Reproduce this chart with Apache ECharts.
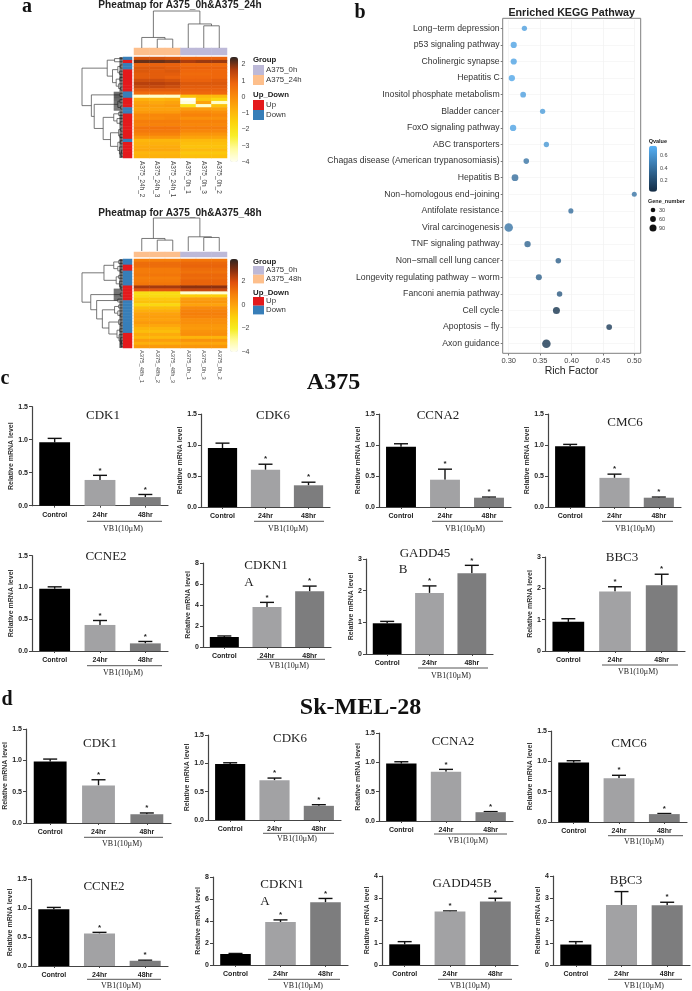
<!DOCTYPE html>
<html><head><meta charset="utf-8">
<style>html,body{margin:0;padding:0;background:#fff}#c{width:692px;height:991px}</style>
<script src="https://cdn.jsdelivr.net/npm/echarts@6/dist/echarts.min.js"></script>
</head><body><div id="c"></div>
<script>
// ---------- DATA: qPCR ----------
const barCategories = ['Control', '24hr', '48hr'];
const a375Genes = ['CDK1','CDK6','CCNA2','CMC6','CCNE2','CDKN1A','GADD45B','BBC3'];
const a375Means = [[.96,.39,.13],[.95,.60,.35],[.97,.44,.15],[.98,.47,.15],[.98,.41,.12],[.95,3.8,5.3],[.97,1.93,2.55],[.93,1.9,2.1]];
const a375Upper = [[1.02,.46,.17],[1.03,.69,.40],[1.02,.61,.16],[1.01,.53,.16],[1.01,.48,.15],[1.05,4.25,5.8],[1.03,2.15,2.8],[1.03,2.05,2.45]];
const a375YMax = [1.5,1.5,1.5,1.5,1.5,8,3,3];
const a375YStep = [.5,.5,.5,.5,.5,2,1,1];
const skGenes = ['CDK1','CDK6','CCNA2','CMC6','CCNE2','CDKN1A','GADD45B','BBC3'];
const skMeans = [[.98,.60,.14],[.99,.70,.25],[.98,.84,.15],[.98,.72,.13],[.98,.56,.09],[1.0,3.9,5.7],[.93,2.4,2.85],[.92,2.7,2.68]];
const skUpper = [[1.02,.69,.16],[1.01,.74,.27],[1.01,.88,.16],[1.01,.77,.14],[1.01,.58,.10],[1.05,4.1,6.05],[1.05,2.43,3.0],[1.05,3.3,2.82]];
const skYMax = [1.5,1.5,1.5,1.5,1.5,8,4,4];
const skYStep = [.5,.5,.5,.5,.5,2,1,1];
const doseLabel = 'VB1(10μM)';
const yName = 'Relative mRNA level';

// ---------- DATA: KEGG ----------
const keggPathways = ['Long−term depression','p53 signaling pathway','Cholinergic synapse','Hepatitis C','Inositol phosphate metabolism','Bladder cancer','FoxO signaling pathway','ABC transporters','Chagas disease (American trypanosomiasis)','Hepatitis B','Non−homologous end−joining','Antifolate resistance','Viral carcinogenesis','TNF signaling pathway','Non−small cell lung cancer','Longevity regulating pathway − worm','Fanconi anemia pathway','Cell cycle','Apoptosis − fly','Axon guidance'];
const keggRich = [.325,.308,.308,.305,.323,.354,.307,.360,.328,.310,.50,.399,.30,.330,.379,.348,.381,.376,.460,.360];
const keggGene = [35,55,55,58,45,35,58,35,42,70,28,30,110,60,40,52,40,75,45,110];
const keggQ = [.66,.68,.68,.7,.66,.64,.68,.62,.42,.38,.42,.38,.42,.33,.3,.3,.26,.06,.1,.07];

// ---------- DATA: heatmaps ----------
const heat1Columns = ['A375_24h_2','A375_24h_3','A375_24h_1','A375_0h_1','A375_0h_3','A375_0h_2'];
const heat2Columns = ['A375_48h_1','A375_48h_2','A375_48h_3','A375_0h_1','A375_0h_3','A375_0h_2'];
const heat1Rows = [
[1.2,1.2,1.1,.9,.9,.9],[2.1,2.1,2.0,1.7,1.8,1.8],[.9,.9,.9,.7,.7,.7],[1.1,1.1,1.0,.9,.9,.9],
[1.1,1.0,1.1,.8,.8,.8],[1.0,1.0,1.0,.7,.7,.8],[1.0,1.0,.9,.8,.8,.8],[1.3,1.3,1.2,.9,.9,1.0],
[1.6,1.6,1.5,1.1,1.1,1.1],[1.4,1.4,1.3,1.0,1.0,1.0],[1.0,1.0,1.0,.9,.9,.9],[.7,.7,.7,.8,.8,.8],
[-3.6,-3.6,-3.6,-1.2,-1.0,-1.0],[-.8,-.9,-.8,-4,-1.3,-1.7],[-.5,-.6,-.5,-3.8,-.5,-3.6],[-.3,-.4,-.3,-2,-3.6,-1.2],
[-.5,-.5,-.5,-.4,-.4,-.5],[-.3,-.3,-.3,0,0,-.1],[.1,.1,.1,.2,.2,.1],[0,0,.1,-.1,-.1,-.1],
[.3,.3,.3,.2,.2,.2],[.2,.2,.2,.1,.1,.1],[.5,.5,.5,.3,.3,.3],[.4,.4,.4,.1,.1,.1],
[.2,.2,.2,-.2,-.2,-.2],[-.2,-.2,-.2,-.5,-.5,-.5],[-.9,-.9,-.9,-1,-1,-1],[-.8,-.8,-.8,-1.1,-1.1,-1.1],
[-.7,-.7,-.7,-1.2,-1.2,-1.2],[-.6,-.6,-.6,-1,-1,-1],[-.9,-.9,-.9,-1.3,-1.3,-1.3],[-.8,-.8,-.8,-1.1,-1.1,-1.1]];
const heat2Rows = [
[.9,.9,.9,1.1,1.1,1.1],[1.3,1.3,1.3,1.4,1.4,1.4],[1.3,1.3,1.3,1.5,1.5,1.5],[1.0,1.0,1.0,1.3,1.3,1.3],
[1.0,1.0,1.0,1.2,1.2,1.2],[1.1,1.1,1.1,1.4,1.4,1.4],[.9,.9,.9,1.3,1.3,1.3],[1.0,1.0,1.0,1.5,1.5,1.5],
[1.1,1.1,1.1,1.5,1.5,1.5],[2.6,2.6,2.6,2.9,2.9,2.9],[1.8,1.8,1.8,2.2,2.2,2.2],[-1.5,-1.5,-1.5,-3.6,-3.6,-3.6],
[-1.4,-1.4,-1.4,-1,-1,-1],[-.9,-.9,-.9,.1,.1,.1],[-.7,-.7,-.7,.3,.3,.3],[-1.3,-1.3,-1.3,0,0,0],
[-.6,-.6,-.6,.6,.6,.6],[-.3,-.3,-.3,.8,.8,.8],[0,0,0,.9,.9,.9],[.1,.1,.1,.8,.8,.8],
[0,0,0,.5,.5,.5],[.2,.2,.2,.5,.5,.5],[-.1,-.1,-.1,.3,.3,.3],[-.4,-.4,-.4,.2,.2,.2],
[-.6,-.6,-.6,.4,.4,.4],[-.2,-.2,-.2,.5,.5,.5],[-.5,-.5,-.5,-.4,-.4,-.4],[.1,.1,.1,.4,.4,.4],
[-.3,-.3,-.3,-.1,-.1,-.1],[.2,.2,.2,.3,.3,.3]];
// 1 = Up, 0 = Down
const heat1UpDown = [0,1,0,0,1,1,1,1,1,1,1,0,0,1,1,1,0,0,1,1,1,1,1,1,1,1,0,1,1,1,1,1];
const heat2UpDown = [0,0,1,1,0,0,0,0,0,1,1,1,1,1,0,0,0,0,0,0,0,0,0,0,0,1,1,1,1,1];
// 2 = A375_0h, 3 = treated group
const groupStrip = [3,3,3,2,2,2];
// dendrograms: [height, childA, childB], a plain number is a leaf
const heat1ColTree = [1,[.285,0,[.24,1,2]],[.65,3,[.6,4,5]]];
const heat2ColTree = [1,[.38,0,[.33,1,2]],[.43,3,[.41,4,5]]];
const heat1RowTree = [1,
 [.38,[.2,0,1],[.25,[.12,[.06,2,3],[.08,4,5]],[.16,[.07,6,7],[.1,8,[.05,9,10]]]]],
 [.77,[.07,11,12],[.70,[.12,[.07,13,14],[.05,15,16]],[.48,[.22,[.1,17,18],[.14,19,[.06,20,21]]],[.3,[.1,[.05,22,23],[.07,24,25]],[.12,[.06,26,27],[.08,28,[.04,[.03,29,30],31]]]]]]]];
const heat2RowTree = [1,
 [.46,[.22,[.1,0,1],[.12,2,[.06,3,4]]],[.16,[.1,5,6],[.08,7,[.05,8,[.04,9,10]]]]],
 [.785,[.06,11,12],[.64,[.12,13,14],[.5,[.2,[.1,15,16],[.12,17,[.06,18,19]]],[.34,[.1,20,[.05,21,22]],[.14,[.07,23,24],[.09,25,[.05,26,[.04,[.03,27,28],29]]]]]]]]];

// ---------- LAYOUT (pixels of the page) ----------
const SANS = '"Liberation Sans",Arial,sans-serif', SERIF = '"Liberation Serif","Times New Roman",serif';
// [axis x, top, right, bottom, name centre distance from axis]
const a375Frames = [[32,406.7,168,505.7,18],[201,414,330,507,17],[379,414,511,507,18],[548,414,681,507,16],
                    [32,555.7,168,651,18],[203,563,331,647,11],[366,559,493,654,13],[545,557,685,651,14]];
const skFrames = [[26,729,171,823,19],[208,735,341,820,16],[379,733,513,821,17],[551,731,687,822,19],
                  [31,879,168,966,17],[213,877,348,965,14],[382,876,518,965,13],[553,876,690,965,13]];
// [text, centre x, centre y]
const a375TitleLines = [['CDK1',103,416],['CDK6',273,416],['CCNA2',438,416],['CMC6',625,423],['CCNE2',106,557],['CDKN1',266,566],['A',249,583],['GADD45',425,554],['B',403,570],['BBC3',622,558]];
const skTitleLines = [['CDK1',100,744],['CDK6',290,739],['CCNA2',453,742],['CMC6',629,744],['CCNE2',104,887],['CDKN1',282,885],['A',265,902],['GADD45B',462,884],['BBC3',626,881]];
// [x1, x2, line y, text centre x, text y]
const doseBrackets = [[87,162,521.3,123,528.7],[254,324,521.3,288,528.7],[432,503,521.3,465,528.7],[602,673,521.3,635,528.7],
 [87,162,665.7,123,672.7],[257,325,659.3,289,665.5],[418,488,668,451,675.7],[602,678,665,638,671.7],
 [84,163,837.3,122,844],[263,334,833.3,297,839.3],[434,507,834,468,840.7],[608,683,835.7,644,842],
 [87,161,979.3,121,985.7],[268,340,979.3,303,985.7],[438,512,979.3,470,985.7],[608,682,979.3,644,985.7]];
const barColors = ['#000000','#a2a2a4','#7d7d7e'];

const grids = [], xAxes = [], yAxes = [], series = [], visualMaps = [], graphics = [];
function addGrid(g, x, y) {
  grids.push(g);
  const i = grids.length - 1;
  xAxes.push(Object.assign({gridIndex:i}, x));
  yAxes.push(Object.assign({gridIndex:i}, y));
  return i;
}
function addSeries(s) { series.push(s); return series.length - 1; }
function box(l, t, r, b) { return {left:l, top:t, width:r-l, height:b-t}; }

function gText(text, x, y, font, fill, align) {
  graphics.push({type:'text', silent:true, x:0, y:0, style:{text, x, y, font, fill:fill||'#222', textAlign:align||'center', align:align||'center', textVerticalAlign:'middle', verticalAlign:'middle'}});
}
function gRect(x, y, w, h, fill, stroke) {
  graphics.push({type:'rect', silent:true, shape:{x,y,width:w,height:h}, style:{fill:fill||'transparent', stroke:stroke||null, lineWidth:stroke?1:0}});
}
function gLine(x1, y1, x2, y2, stroke, w) {
  graphics.push({type:'line', silent:true, shape:{x1,y1,x2,y2}, style:{stroke, lineWidth:w||1}});
}

// ---------- bar panels ----------
function errorRender(params, api) {
  const i = api.value(0), mean = api.value(1), up = api.value(2);
  const p0 = api.coord([i, mean]), p1 = api.coord([i, up]);
  const cap = 7;
  const sty = {stroke:'#111', lineWidth:1.4};
  const kids = [
    {type:'line', shape:{x1:p0[0],y1:p0[1],x2:p1[0],y2:p1[1]}, style:sty},
    {type:'line', shape:{x1:p0[0]-cap,y1:p1[1],x2:p0[0]+cap,y2:p1[1]}, style:sty}
  ];
  if (i > 0) kids.push({type:'text', style:{text:'*', x:p0[0], y:p1[1]-5, font:'bold 8px '+SANS, fill:'#222', textAlign:'center', align:'center', textVerticalAlign:'middle', verticalAlign:'middle'}});
  return {type:'group', children:kids};
}
function addBarPanel(frame, means, upper, yMax, yStep) {
  const [x, t, r, b, gap] = frame;
  const gi = addGrid(box(x, t, r, b),
    {type:'category', data:barCategories,
     axisLine:{lineStyle:{color:'#444', width:1.2}},
     axisTick:{show:true, alignWithLabel:true, length:2, lineStyle:{color:'#444'}},
     axisLabel:{interval:0, margin:5.5, fontFamily:SANS, fontSize:7, fontWeight:'bold', color:'#222'}},
    {type:'value', min:0, max:yMax, interval:yStep, splitLine:{show:false},
     name:yName, nameLocation:'middle', nameGap:gap-5.5, nameRotate:90,
     nameTextStyle:{fontFamily:SANS, fontSize:7, fontWeight:'bold', color:'#333'},
     axisLine:{show:true, lineStyle:{color:'#444', width:1.2}},
     axisTick:{show:true, length:3, lineStyle:{color:'#444'}},
     axisLabel:{margin:4, fontFamily:SANS, fontSize:7, fontWeight:'bold', color:'#222',
       formatter:v => yStep < 1 ? v.toFixed(1) : String(v)}});
  addSeries({type:'bar', xAxisIndex:gi, yAxisIndex:gi, barWidth:'68%', silent:true,
    data:means.map((v,i)=>({value:v, itemStyle:{color:barColors[i]}}))});
  addSeries({type:'custom', xAxisIndex:gi, yAxisIndex:gi, silent:true, clip:false, renderItem:errorRender,
    encode:{x:0,y:[1,2]}, data:means.map((v,i)=>[i,v,upper[i]])});
}
a375Frames.forEach((f,i)=>addBarPanel(f,a375Means[i],a375Upper[i],a375YMax[i],a375YStep[i]));
skFrames.forEach((f,i)=>addBarPanel(f,skMeans[i],skUpper[i],skYMax[i],skYStep[i]));
a375TitleLines.concat(skTitleLines).forEach(l=>gText(l[0],l[1],l[2],'13px '+SERIF,'#222'));
doseBrackets.forEach(b=>{gLine(b[0],b[2],b[1],b[2],'#555',1);gText(doseLabel,b[3],b[4],'8px '+SERIF,'#222');});

// ---------- heatmaps ----------
const hiddenCat = d => ({type:'category', data:d, show:false});
function flatten(node, out) {
  if (typeof node === 'number') return {pos:node, h:0};
  const A = flatten(node[1], out), B = flatten(node[2], out);
  out.push([A.h, A.pos, B.h, B.pos, node[0]]);
  return {pos:(A.pos+B.pos)/2, h:node[0]};
}
function treeSeries(gi, tree, horizontal) {
  const segs = []; flatten(tree, segs);
  const pt = (api,h,p) => horizontal ? api.coord([h,p]) : api.coord([p,h]);
  addSeries({type:'custom', xAxisIndex:gi, yAxisIndex:gi, silent:true, clip:false,
    renderItem:(params,api)=>({type:'polyline', shape:{points:[
        pt(api,api.value(0),api.value(1)), pt(api,api.value(4),api.value(1)),
        pt(api,api.value(4),api.value(3)), pt(api,api.value(2),api.value(3))]},
      style:{stroke:'#555', lineWidth:.8, fill:null}}),
    data:segs});
}
function buildHeat(cfg) {
  const n = cfg.rows.length;
  const rowNames = cfg.rows.map((_,i)=>String(i));
  const cells = [];
  cfg.rows.forEach((row,r)=>row.forEach((v,c)=>cells.push([c,r,v])));
  const g = addGrid(box(134,cfg.top,227,cfg.bottom),
    {type:'category', data:cfg.columns, axisLine:{show:false}, axisTick:{show:false},
     axisLabel:{interval:0, rotate:-90, margin:cfg.labelMargin, fontFamily:SANS, fontSize:cfg.labelSize, color:'#444'}},
    Object.assign(hiddenCat(rowNames),{inverse:true}));
  const hs = addSeries({type:'heatmap', xAxisIndex:g, yAxisIndex:g, silent:true, data:cells});
  visualMaps.push({type:'continuous', seriesIndex:hs, dimension:2, min:-4, max:cfg.cbMax, left:230, top:cfg.top, itemWidth:8,
    itemHeight:cfg.cbBottom-cfg.top, padding:0, calculable:false, hoverLink:false, text:null, inRange:{color:cfg.colors}});
  // colour bar tick labels
  addGrid(box(230,cfg.top,238,cfg.cbBottom),{type:'value',show:false,min:0,max:1},
    {type:'value', position:'right', min:-4, max:cfg.cbMax, interval:cfg.cbStep, splitLine:{show:false},
     axisLine:{show:false}, axisTick:{show:false},
     axisLabel:{margin:3.5, fontFamily:SANS, fontSize:7, color:'#444', showMaxLabel:false,
       formatter:v=>Number.isInteger(v)?String(v).replace('-','−'):''}});
  // up/down strip
  const sg = addGrid(box(123,cfg.top,132,cfg.bottom),hiddenCat(['s']),Object.assign(hiddenCat(rowNames),{inverse:true}));
  const s1 = addSeries({type:'heatmap', xAxisIndex:sg, yAxisIndex:sg, silent:true, data:cfg.upDown.map((v,r)=>[0,r,v])});
  // group strip
  const tg = addGrid(box(134,cfg.stripTop,227,cfg.stripBottom),hiddenCat(cfg.columns),hiddenCat(['s']));
  const s2 = addSeries({type:'heatmap', xAxisIndex:tg, yAxisIndex:tg, silent:true, data:groupStrip.map((v,c)=>[c,0,v])});
  visualMaps.push({type:'piecewise', show:false, seriesIndex:[s1,s2], dimension:2,
    pieces:[{value:0,color:'#377eb8'},{value:1,color:'#e41a1c'},{value:2,color:'#bdb9d8'},{value:3,color:'#fdbf8c'}]});
  // dendrograms
  const cg = addGrid(box(134,cfg.treeTop,227,cfg.treeBottom),{type:'value',show:false,min:-.5,max:5.5},{type:'value',show:false,min:0,max:1});
  treeSeries(cg,cfg.colTree,false);
  const rg = addGrid(box(82,cfg.top,122.7,cfg.bottom),{type:'value',show:false,min:0,max:1,inverse:true},{type:'value',show:false,min:-.5,max:n-.5,inverse:true});
  treeSeries(rg,cfg.rowTree,true);
  addSeries({type:'custom', xAxisIndex:rg, yAxisIndex:rg, silent:true, clip:false,
    renderItem:(p,api)=>{
      const r = api.value(0), hl = api.value(1);
      return {type:'group', children:[-.33,0,.33].map(d=>{
        const a = api.coord([0,r+d]), b = api.coord([hl,r+d]);
        return {type:'line', shape:{x1:a[0],y1:a[1],x2:b[0],y2:b[1]}, style:{stroke:'#111', lineWidth:.7}};
      })};
    },
    data:cfg.rows.map((_,r)=>[r, r>=cfg.denseFrom&&r<=cfg.denseTo ? .22 : .08])});
  // title + legend
  gText(cfg.title,180,cfg.titleY,'bold 10.1px '+SANS,'#222');
  const L = cfg.legend;
  gText('Group',253,L.groupY,'bold 7.8px '+SANS,'#222','left');
  gRect(253,L.s1,11,L.sh,'#bdb9d8'); gRect(253,L.s1+L.sh,11,L.sh,'#fdbf8c');
  gText('A375_0h',266,L.s1+L.sh/2,'7.8px '+SANS,'#333','left');
  gText(cfg.groupName,266,L.s1+L.sh*1.5,'7.8px '+SANS,'#333','left');
  gText('Up_Down',253,L.udY,'bold 7.8px '+SANS,'#222','left');
  gRect(253,L.s2,11,L.sh,'#e41a1c'); gRect(253,L.s2+L.sh,11,L.sh,'#377eb8');
  gText('Up',266,L.s2+L.sh/2,'7.8px '+SANS,'#333','left');
  gText('Down',266,L.s2+L.sh*1.5,'7.8px '+SANS,'#333','left');
}
buildHeat({rows:heat1Rows, columns:heat1Columns, upDown:heat1UpDown, colTree:heat1ColTree, rowTree:heat1RowTree,
  top:57, bottom:158, cbBottom:162, cbMax:2.45, cbStep:1, labelMargin:3, labelSize:6.4,
  stripTop:48, stripBottom:55, treeTop:11, treeBottom:48, denseFrom:11, denseTo:16,
  colors:['#fffff2','#fffca0','#f8ee28','#fcd40c','#fdb00c','#f98a0a','#ee650c','#b53f0d','#2d2522'],
  title:'Pheatmap for A375_0h&A375_24h', titleY:5, groupName:'A375_24h',
  legend:{groupY:60,s1:65,sh:10,udY:95,s2:100}});
buildHeat({rows:heat2Rows, columns:heat2Columns, upDown:heat2UpDown, colTree:heat2ColTree, rowTree:heat2RowTree,
  top:259, bottom:348, cbBottom:352, cbMax:3.9, cbStep:2, labelMargin:2, labelSize:5.8,
  stripTop:252, stripBottom:257, treeTop:218, treeBottom:251, denseFrom:10, denseTo:13,
  colors:['#fffff2','#fffb9a','#f5ec20','#fcd00a','#fda40c','#f57e0a','#e0500c','#8a3010','#2d2522'],
  title:'Pheatmap for A375_0h&A375_48h', titleY:213, groupName:'A375_48h',
  legend:{groupY:262,s1:266,sh:8.7,udY:292.7,s2:297}});

// ---------- KEGG ----------
const kg = addGrid(box(508.7,20,634.3,352),
  {type:'value', min:.3, max:.5, interval:.05, offset:1.5,
   name:'Rich Factor', nameLocation:'middle', nameGap:10,
   nameTextStyle:{fontFamily:SANS, fontSize:10.5, color:'#222'},
   axisLine:{show:false}, axisTick:{show:true,length:2,lineStyle:{color:'#777'}},
   axisLabel:{margin:3, fontFamily:SANS, fontSize:7.5, color:'#444', formatter:v=>v.toFixed(2)},
   splitLine:{show:true,lineStyle:{color:'#f3f3f3',width:.8}}},
  {type:'category', inverse:true, data:keggPathways, offset:6,
   axisLine:{show:false}, axisTick:{show:true,length:2,alignWithLabel:true,lineStyle:{color:'#777'}},
   axisLabel:{interval:0, margin:3, fontFamily:SANS, fontSize:8.7, color:'#333'},
   splitLine:{show:true,alignWithLabel:true,lineStyle:{color:'#f5f5f5',width:.8}}});
const ks = addSeries({type:'scatter', xAxisIndex:kg, yAxisIndex:kg, silent:true, clip:false,
  symbolSize:v=>3.8+.043*v[2],
  data:keggRich.map((r,i)=>[r,i,keggGene[i],keggQ[i]])});
visualMaps.push({type:'continuous', seriesIndex:ks, dimension:3, min:.01, max:.76, left:649, top:145.7, itemWidth:8, itemHeight:46,
  padding:0, calculable:false, hoverLink:false, text:null, inRange:{color:['#132B43','#56B1F7']}});
gRect(502.7,18.3,138,335,null,'#7f7f7f');
gText('Enriched KEGG Pathway',571.7,12.7,'bold 10.7px '+SANS,'#222');
gText('Qvalue',648.7,141.7,'bold 5.5px '+SANS,'#222','left');
[['0.6',155.7],['0.4',168],['0.2',180]].forEach(l=>gText(l[0],660,l[1],'5.5px '+SANS,'#444','left'));
gText('Gene_number',648,201,'bold 5.5px '+SANS,'#222','left');
[['30',210,2.3],['60',219,2.9],['90',228,3.5]].forEach(l=>{
  graphics.push({type:'circle',silent:true,shape:{cx:653,cy:l[1],r:l[2]},style:{fill:'#111'}});
  gText(l[0],659,l[1],'5.5px '+SANS,'#444','left');
});

// ---------- headings ----------
gText('a',27,7,'bold 20px '+SERIF,'#111');
gText('b',360,13,'bold 20px '+SERIF,'#111');
gText('c',5,379,'bold 20px '+SERIF,'#111');
gText('d',7,700,'bold 20px '+SERIF,'#111');
gText('A375',333.5,383,'bold 24px '+SERIF,'#111');
gText('Sk-MEL-28',360.5,708,'bold 24px '+SERIF,'#111');

const chart = echarts.init(document.getElementById('c'), null, {width:692, height:991});
chart.setOption({animation:false, grid:grids, xAxis:xAxes, yAxis:yAxes, series, visualMap:visualMaps, graphic:{elements:graphics}, tooltip:{show:false}});
</script></body></html>
